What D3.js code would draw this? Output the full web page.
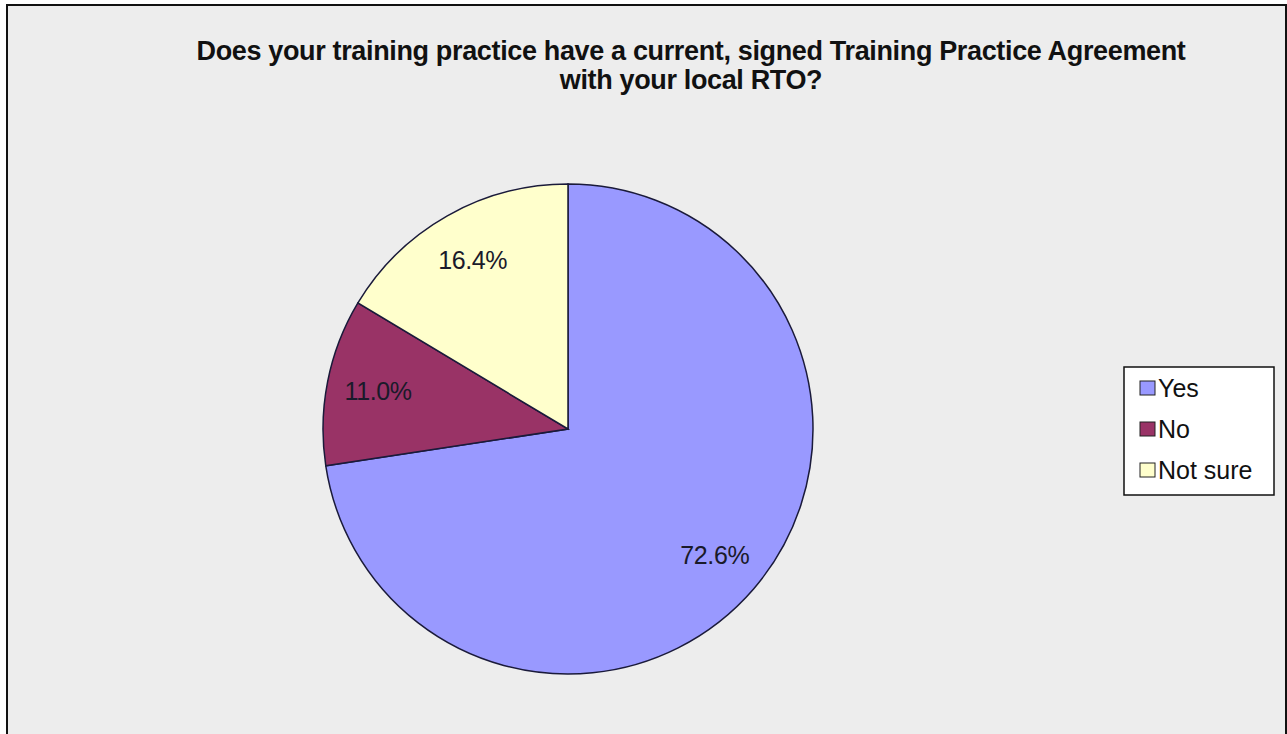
<!DOCTYPE html>
<html>
<head>
<meta charset="utf-8">
<script src="https://cdn.jsdelivr.net/npm/d3@7"></script>
<style>
  html, body { margin: 0; padding: 0; background: #fff; }
  svg { display: block; }
  text { font-family: Arial, "Liberation Sans", sans-serif; }
</style>
</head>
<body>
<svg id="chart" width="1287" height="734"></svg>
<script>
// Survey answers and their shares of responses (%)
const categories = ["Yes", "No", "Not sure"];
const shares = [72.6, 11.0, 16.4];
const colors = ["#9999FF", "#993366", "#FFFFCC"];
const titleLines = [
  "Does your training practice have a current, signed Training Practice Agreement",
  "with your local RTO?"
];

const W = 1287, H = 734;
const svg = d3.select("#chart");

// Chart area panel with dark frame
svg.append("rect").attr("x", 0).attr("y", 0).attr("width", W).attr("height", H).attr("fill", "#ffffff");
svg.append("rect")
  .attr("x", 7).attr("y", 5).attr("width", 1279).attr("height", H + 10)
  .attr("fill", "#EDEDED").attr("stroke", "#111").attr("stroke-width", 2);

// Title
const title = svg.append("g");
titleLines.forEach((line, i) => {
  title.append("text")
    .attr("x", 691).attr("y", 60 + i * 29)
    .attr("text-anchor", "middle")
    .attr("font-size", 27).attr("font-weight", "bold")
    .attr("letter-spacing", -0.35)
    .attr("fill", "#111")
    .text(line);
});

// Pie
const cx = 568, cy = 429, r = 245;
const data = categories.map((c, i) => ({ cat: c, value: shares[i], color: colors[i] }));
const pie = d3.pie().value(d => d.value).sort(null);
const arc = d3.arc().innerRadius(0).outerRadius(r);
const arcs = pie(data);

const g = svg.append("g").attr("transform", `translate(${cx},${cy})`);
g.selectAll("path.slice")
  .data(arcs)
  .join("path")
  .attr("class", "slice")
  .attr("d", arc)
  .attr("fill", d => d.data.color)
  .attr("stroke", "#1a1a3a")
  .attr("stroke-width", 1.5);

// Percentage labels placed within each slice
const labelArc = d3.arc().innerRadius(r * 0.79).outerRadius(r * 0.79);
g.selectAll("text.pct")
  .data(arcs)
  .join("text")
  .attr("class", "pct")
  .attr("transform", d => `translate(${labelArc.centroid(d)})`)
  .attr("text-anchor", "middle")
  .attr("dy", "0.35em")
  .attr("font-size", 25)
  .attr("letter-spacing", -0.4)
  .attr("fill", "#1a1a2a")
  .text(d => d.data.value.toFixed(1) + "%");

// Legend
const lg = svg.append("g").attr("transform", "translate(1124,367)");
lg.append("rect").attr("width", 150).attr("height", 128)
  .attr("fill", "#ffffff").attr("stroke", "#111").attr("stroke-width", 1.5);
const items = lg.selectAll("g.item").data(data).join("g")
  .attr("class", "item")
  .attr("transform", (d, i) => `translate(16,${21 + i * 41})`);
items.append("rect")
  .attr("x", 0).attr("y", -7).attr("width", 15).attr("height", 14)
  .attr("fill", d => d.color).attr("stroke", "#222").attr("stroke-width", 1);
items.append("text")
  .attr("x", 18).attr("y", 0).attr("dy", "0.36em")
  .attr("font-size", 25).attr("letter-spacing", 0)
  .attr("fill", "#111")
  .text(d => d.cat);
</script>
</body>
</html>
